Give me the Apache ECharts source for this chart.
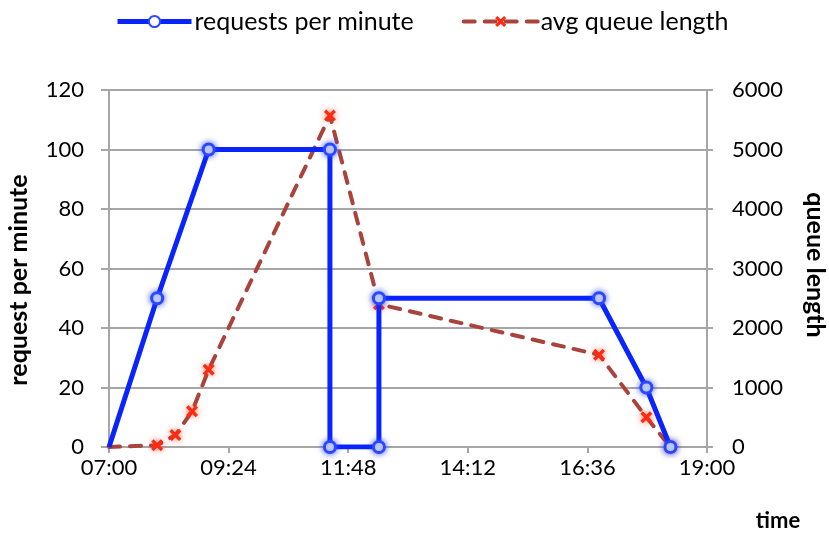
<!DOCTYPE html>
<html>
<head>
<meta charset="utf-8">
<script src="https://cdn.jsdelivr.net/npm/echarts@6/dist/echarts.min.js"></script>
<style>html,body{margin:0;padding:0;background:#fff}#c{width:829px;height:538px}</style>
</head>
<body>
<div id="c"></div>
<script>
// ---- data ----
const reqTimes  = ["07:00","07:58","09:00","11:26","11:26","12:25","12:25","16:50","17:47","18:16"];
const reqValues = [0, 50, 100, 100, 0, 0, 50, 50, 20, 0];
const queueTimes  = ["07:00","07:58","08:20","08:40","09:00","11:26","12:25","16:50","17:47","18:16"];
const queueValues = [0, 30, 200, 600, 1300, 5570, 2400, 1550, 500, 0];
const seriesNames = ["requests per minute", "avg queue length"];
const axisTitles = {left:"request per minute", right:"queue length", x:"time"};
const xMin = "07:00", xMax = "19:00", xStepMinutes = 144;

function toMin(s){ const p = s.split(":"); return (+p[0])*60 + (+p[1]); }
function fmt(m){ const h = Math.floor(m/60), mm = Math.round(m%60); return String(h).padStart(2,"0")+":"+String(mm).padStart(2,"0"); }

const FONT = 'Lato,"Open Sans","Noto Sans",sans-serif';
const X_PATH = 'path://M2,0 L5,3 L8,0 L10,2 L7,5 L10,8 L8,10 L5,7 L2,10 L0,8 L3,5 L0,2 Z';
const GRID = '#a6a6a6';

const reqData = reqTimes.map((t,i)=> i===0 ? {value:[toMin(t), reqValues[i]], symbol:'none'} : [toMin(t), reqValues[i]]);
const queueData = queueTimes.map((t,i)=> i===0 ? {value:[toMin(t), queueValues[i]], symbol:'none'} : [toMin(t), queueValues[i]]);

const chart = echarts.init(document.getElementById('c'), null, {renderer:'canvas'});
chart.setOption({
  animation:false,
  textStyle:{fontFamily:FONT},
  legend:{
    top:4, left:110, itemGap:48, itemWidth:74, itemHeight:14,
    textStyle:{fontFamily:FONT, fontSize:25, color:'#000', padding:[0,0,0,-2]},
    lineStyle:{width:'inherit'},
    data:seriesNames
  },
  graphic:[
    {type:'text', x:19, y:280, rotation:Math.PI/2,
     style:{text:axisTitles.left, font:'bold 25px '+FONT, fill:'#000', textAlign:'center', textVerticalAlign:'middle'}},
    {type:'text', x:815, y:265, rotation:-Math.PI/2,
     style:{text:axisTitles.right, font:'bold 25px '+FONT, fill:'#000', textAlign:'center', textVerticalAlign:'middle'}},
    {type:'text', x:778, y:521,
     style:{text:axisTitles.x, font:'bold 22px '+FONT, fill:'#000', textAlign:'center', textVerticalAlign:'middle'}}
  ],
  grid:{left:109, right:122, top:90, bottom:91, containLabel:false},
  xAxis:{
    type:'value', min:toMin(xMin), max:toMin(xMax), interval:xStepMinutes,
    axisLine:{show:true, lineStyle:{color:GRID, width:2}},
    axisTick:{show:true, inside:false, length:6, lineStyle:{color:GRID, width:2}},
    splitLine:{show:false},
    axisLabel:{formatter:v=>fmt(v), fontFamily:FONT, fontSize:22, color:'#000', margin:10}
  },
  yAxis:[
    {
      type:'value', min:0, max:120, interval:20, position:'left',
      axisLine:{show:true, lineStyle:{color:GRID, width:2}},
      axisTick:{show:true, length:8, lineStyle:{color:GRID, width:2}},
      splitLine:{show:true, lineStyle:{color:GRID, width:2}},
      axisLabel:{fontFamily:FONT, fontSize:22, color:'#000', margin:25}
    },
    {
      type:'value', min:0, max:6000, interval:1000, position:'right',
      axisLine:{show:true, lineStyle:{color:GRID, width:2}},
      axisTick:{show:true, length:6, lineStyle:{color:GRID, width:2}},
      splitLine:{show:false},
      axisLabel:{formatter:v=>String(v), fontFamily:FONT, fontSize:22, color:'#000', margin:25}
    }
  ],
  series:[
    {
      name:seriesNames[0], type:'line', yAxisIndex:0, data:reqData,
      symbol:'circle', symbolSize:11, showAllSymbol:true,
      lineStyle:{color:'#0a24ff', width:5},
      itemStyle:{color:'#ffffff', borderColor:'#2a48ff', borderWidth:3, shadowBlur:6, shadowColor:'rgba(40,70,255,0.8)'},
      z:3
    },
    {
      name:seriesNames[1], type:'line', yAxisIndex:1, data:queueData,
      symbol:X_PATH, symbolSize:12, showAllSymbol:true,
      lineStyle:{color:'#a9433c', width:4, type:[11,10], cap:'round'},
      itemStyle:{color:'#ff2a10', borderWidth:0, shadowBlur:6, shadowColor:'rgba(255,60,30,0.7)'},
      z:2
    }
  ]
});
</script>
</body>
</html>
